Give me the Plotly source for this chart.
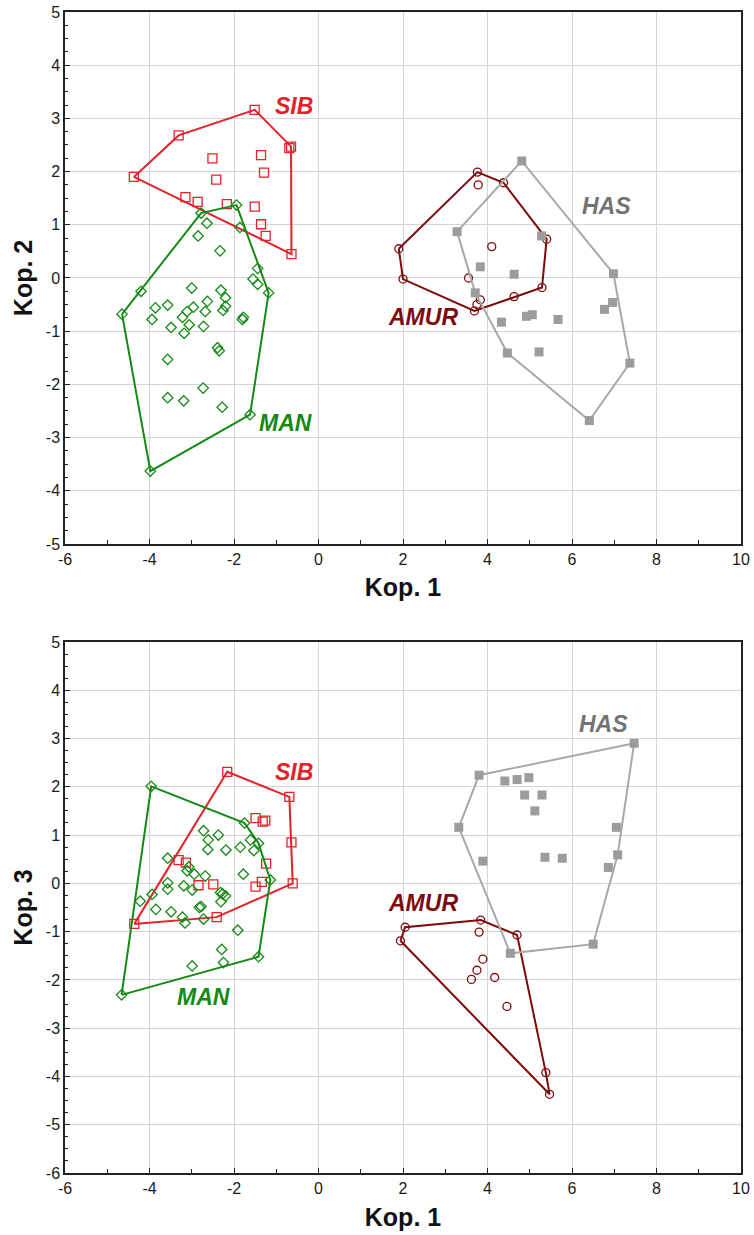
import plotly.graph_objects as go
from plotly.subplots import make_subplots

# ---------------- data: (Kop.1, Kop.2) ----------------
sib_x12 = [-1.51, -3.31, -0.69, -0.65, -4.37, -2.51, -1.36, -1.29, -2.42, -3.15, -2.86, -2.17, -1.51, -1.36, -1.25, -0.64]
sib_y12 = [3.16, 2.68, 2.44, 2.47, 1.90, 2.25, 2.31, 1.98, 1.85, 1.52, 1.43, 1.39, 1.34, 1.01, 0.79, 0.45]

man_x12 = [-1.94, -2.78, -2.64, -1.86, -2.85, -2.33, -1.44, -1.55, -1.44, -1.18, -4.20, -3.00, -2.31, -2.20,
           -2.20, -2.26, -4.65, -3.86, -3.57, -3.94, -2.96, -3.11, -2.63, -2.68, -3.22, -3.06, -3.49, -2.72,
           -3.18, -1.78, -1.80, -2.39, -2.35, -3.57, -2.73, -3.57, -3.19, -2.28, -1.62, -3.98]
man_y12 = [1.37, 1.22, 1.03, 0.95, 0.79, 0.51, 0.18, -0.02, -0.12, -0.28, -0.25, -0.19, -0.23, -0.37,
           -0.53, -0.61, -0.68, -0.56, -0.51, -0.78, -0.55, -0.63, -0.44, -0.63, -0.74, -0.88, -0.93, -0.91,
           -1.04, -0.74, -0.78, -1.31, -1.37, -1.53, -2.07, -2.25, -2.31, -2.43, -2.57, -3.63]

amur_x12 = [3.76, 3.78, 4.38, 1.90, 5.40, 4.10, 2.00, 3.55, 5.29, 4.63, 3.83, 3.75, 3.69]
amur_y12 = [1.99, 1.75, 1.79, 0.55, 0.73, 0.59, -0.02, 0.00, -0.18, -0.35, -0.41, -0.50, -0.62]

has_x12 = [4.81, 3.28, 5.28, 3.83, 4.63, 3.71, 6.98, 6.96, 6.77, 4.33, 4.92, 5.06, 5.67, 4.47, 5.22, 7.37, 6.41]
has_y12 = [2.20, 0.87, 0.79, 0.21, 0.07, -0.28, 0.08, -0.46, -0.59, -0.83, -0.72, -0.69, -0.78, -1.41, -1.39, -1.60, -2.68]

# ---------------- data: (Kop.1, Kop.3) ----------------
sib_x13 = [-2.16, -0.69, -1.49, -1.32, -1.26, -0.64, -3.31, -3.14, -1.24, -1.34, -1.49, -0.61, -2.84, -2.49, -4.36, -2.41]
sib_y13 = [2.31, 1.79, 1.35, 1.28, 1.30, 0.85, 0.48, 0.43, 0.41, 0.03, -0.07, 0.00, -0.04, -0.02, -0.84, -0.70]

man_x13 = [-3.96, -1.75, -2.72, -2.37, -2.61, -1.61, -1.42, -2.62, -2.19, -1.85, -1.53, -3.57, -3.07, -3.11,
           -2.94, -2.68, -1.78, -1.14, -3.57, -3.57, -3.19, -2.99, -2.32, -2.27, -2.20, -2.31, -3.94, -4.22,
           -3.85, -3.49, -2.82, -2.78, -3.22, -3.16, -2.72, -1.91, -2.29, -2.25, -2.99, -1.42, -4.66]
man_y13 = [2.01, 1.25, 1.09, 1.00, 0.90, 0.90, 0.83, 0.70, 0.69, 0.75, 0.68, 0.52, 0.34, 0.26,
           0.19, 0.15, 0.19, 0.07, 0.01, -0.12, -0.05, -0.14, -0.19, -0.22, -0.26, -0.38, -0.23, -0.37,
           -0.54, -0.59, -0.50, -0.48, -0.70, -0.82, -0.74, -0.97, -1.37, -1.64, -1.71, -1.52, -2.31]

amur_x13 = [2.05, 1.94, 3.84, 3.80, 4.70, 3.89, 3.75, 3.62, 4.17, 4.46, 5.38, 5.47]
amur_y13 = [-0.91, -1.19, -0.76, -1.01, -1.07, -1.57, -1.80, -1.99, -1.95, -2.55, -3.92, -4.37]

has_x13 = [7.47, 3.80, 4.41, 4.70, 4.98, 4.88, 5.29, 5.12, 3.32, 7.05, 3.89, 5.36, 5.77, 7.08, 6.86, 6.50, 4.54]
has_y13 = [2.90, 2.24, 2.12, 2.15, 2.19, 1.83, 1.83, 1.50, 1.16, 1.16, 0.46, 0.54, 0.52, 0.59, 0.33, -1.26, -1.45]

group_names = ["SIB", "MAN", "AMUR", "HAS"]
label_x12 = [-0.57, -0.77, 2.47, 6.82]
label_y12 = [3.24, -2.73, -0.73, 1.36]
label_x13 = [-0.59, -2.73, 2.47, 6.74]
label_y13 = [2.31, -2.35, -0.41, 3.30]

x_ticks = [-6, -4, -2, 0, 2, 4, 6, 8, 10]
y_ticks_top = [-5, -4, -3, -2, -1, 0, 1, 2, 3, 4, 5]
y_ticks_bot = [-6, -5, -4, -3, -2, -1, 0, 1, 2, 3, 4, 5]

# ---------------- styles ----------------
styles = {
    "SIB": dict(color="#e3222a", symbol="square-open", size=9, fill=None, label="#e3222a"),
    "MAN": dict(color="#148a14", symbol="diamond-open", size=8, fill=None, label="#148a14"),
    "AMUR": dict(color="#7d0b0b", symbol="circle-open", size=8, fill=None, label="#7d0b0b"),
    "HAS": dict(color="#a8a8a8", symbol="square", size=9, fill="#9c9c9c", label="#737373"),
}


def hull(xs, ys):
    pts = sorted(set(zip(xs, ys)))
    if len(pts) < 3:
        return pts

    def cross(o, a, b):
        return (a[0] - o[0]) * (b[1] - o[1]) - (a[1] - o[1]) * (b[0] - o[0])

    lower, upper = [], []
    for p in pts:
        while len(lower) >= 2 and cross(lower[-2], lower[-1], p) <= 0:
            lower.pop()
        lower.append(p)
    for p in reversed(pts):
        while len(upper) >= 2 and cross(upper[-2], upper[-1], p) <= 0:
            upper.pop()
        upper.append(p)
    h = lower[:-1] + upper[:-1]
    return h + [h[0]]


def labels(vals):
    return [str(v) for v in vals]  # plain hyphen minus like the original


fig = make_subplots(rows=2, cols=1, vertical_spacing=0.0)

panels = [
    (1, [(sib_x12, sib_y12), (man_x12, man_y12), (amur_x12, amur_y12), (has_x12, has_y12)], label_x12, label_y12),
    (2, [(sib_x13, sib_y13), (man_x13, man_y13), (amur_x13, amur_y13), (has_x13, has_y13)], label_x13, label_y13),
]

for row, groups, lx, ly in panels:
    for name, (xs, ys) in zip(group_names, groups):
        st = styles[name]
        h = hull(xs, ys)
        fig.add_trace(go.Scatter(x=[p[0] for p in h], y=[p[1] for p in h], mode="lines",
                                 line=dict(color=st["color"], width=2), showlegend=False,
                                 hoverinfo="skip"), row=row, col=1)
        if st["fill"]:
            marker = dict(symbol=st["symbol"], size=st["size"], color=st["fill"], line=dict(width=0))
        else:
            marker = dict(symbol=st["symbol"], size=st["size"], color=st["color"],
                          line=dict(width=1.3, color=st["color"]))
        fig.add_trace(go.Scatter(x=xs, y=ys, mode="markers", marker=marker, name=name,
                                 showlegend=False), row=row, col=1)
    for name, x, y in zip(group_names, lx, ly):
        fig.add_annotation(x=x, y=y, text="<b><i>%s</i></b>" % name, showarrow=False,
                           font=dict(family="Arial", size=23, color=styles[name]["label"]),
                           xref="x" if row == 1 else "x2", yref="y" if row == 1 else "y2")

axis_common = dict(showline=True, linecolor="#222", linewidth=1.5, mirror=True,
                   ticks="inside", ticklen=5, tickcolor="#222", showgrid=True,
                   gridcolor="#d4d4d4", gridwidth=1, zeroline=False, automargin=False,
                   ticklabeloverflow="allow",
                   tickfont=dict(family="Arial", size=16, color="#1a1a1a"))

title_font = dict(family="Arial", size=25, color="#111")

fig.update_xaxes(**axis_common, range=[-6, 10], tickvals=x_ticks, ticktext=labels(x_ticks),
                 minor=dict(dtick=1, ticks="inside", ticklen=4, tickcolor="#222", showgrid=False))
fig.update_xaxes(title=dict(text="<b>Kop. 1</b>", font=title_font, standoff=12), row=1, col=1)
fig.update_xaxes(title=dict(text="<b>Kop. 1</b>", font=title_font, standoff=13), row=2, col=1)

fig.update_yaxes(**axis_common,
                 minor=dict(dtick=0.25, ticks="inside", ticklen=3, tickcolor="#222", showgrid=False))
fig.update_yaxes(range=[-5, 5], tickvals=y_ticks_top, ticktext=labels(y_ticks_top),
                 title=dict(text="<b>Kop. 2</b>", font=title_font, standoff=6), row=1, col=1)
fig.update_yaxes(range=[-6, 5], tickvals=y_ticks_bot, ticktext=labels(y_ticks_bot),
                 title=dict(text="<b>Kop. 3</b>", font=title_font, standoff=6), row=2, col=1)

fig.update_layout(
    width=754, height=1235,
    margin=dict(l=65, r=13, t=12, b=62, autoexpand=False),
    paper_bgcolor="white", plot_bgcolor="white",
    showlegend=False, hovermode=False,
)
fig.layout.yaxis.domain = [0.5418, 1.0]
fig.layout.yaxis2.domain = [0.0, 0.4574]

# remove the default 8px page margin so the 754x1235 figure fills the window exactly
fig.write_html("out.html", config={"displayModeBar": False},
               post_script="document.body.style.margin='0';")
